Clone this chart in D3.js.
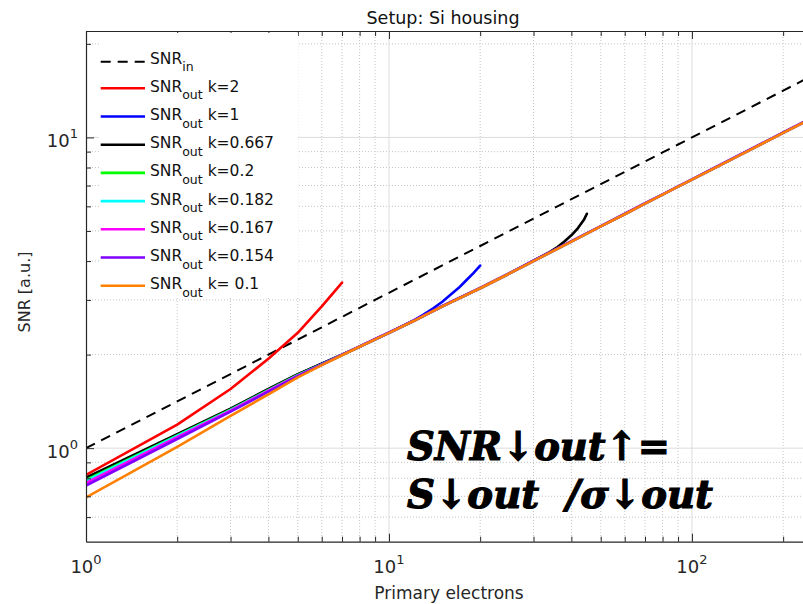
<!DOCTYPE html>
<html>
<head>
<meta charset="utf-8">
<script src="https://cdn.jsdelivr.net/npm/d3@7"></script>
<style>
  body { margin: 0; background: #fff; }
  svg { display: block; font-family: "DejaVu Sans", sans-serif; }
</style>
</head>
<body>
<svg id="chart" width="803" height="604"></svg>
<script>
// ---- data ---------------------------------------------------------------
const nIn   = [1,2,3,4,5,6,7,8,9,10,20,30,40,50,60,70,80,90,100,200,250];
const snrIn = [1,1.414,1.732,2,2.236,2.449,2.646,2.828,3,3.162,4.472,5.477,6.325,7.071,7.746,8.367,8.944,9.487,10,14.142,15.811];

const nK2   = [1,2,3,4,5,6,7];
const snrK2 = [0.82,1.19,1.55,1.94,2.35,2.86,3.41];

const nK1   = [1,2,3,4,5,6,7,8,9,10,11,12,13,14,15,16,17,18,19,20];
const snrK1 = [0.795,1.10,1.335,1.545,1.725,1.87,2.0,2.12,2.24,2.35,2.46,2.57,2.69,2.82,2.96,3.12,3.28,3.47,3.66,3.87];

const nK0667   = [1,2,3,4,5,6,7,8,9,10,12,15,20,25,30,32,34,36,38,40,42,44,45];
const snrK0667 = [0.804,1.11,1.34,1.55,1.73,1.87,2.0,2.12,2.24,2.35,2.56,2.86,3.27,3.65,4.01,4.15,4.28,4.44,4.63,4.84,5.10,5.43,5.68];

const nLow = [1,2,3,4,5,6,7,8,9,10,12,15,20,25,30,40,50,60,70,80,90,100,120,150,200,250];
const snrK02    = [0.79,1.10,1.33,1.54,1.72,1.86,1.995,2.12,2.24,2.35,2.56,2.86,3.27,3.65,4.0,4.62,5.17,5.66,6.12,6.54,6.94,7.31,8.01,8.95,10.34,11.56];
const snrK0182  = [0.785,1.095,1.325,1.535,1.715,1.86,1.995,2.12,2.24,2.35,2.56,2.86,3.27,3.65,4.0,4.62,5.17,5.66,6.12,6.54,6.94,7.31,8.01,8.95,10.34,11.56];
const snrK0167  = [0.772,1.085,1.32,1.53,1.71,1.855,1.995,2.12,2.24,2.35,2.56,2.86,3.27,3.65,4.0,4.62,5.17,5.66,6.12,6.54,6.94,7.31,8.01,8.95,10.34,11.56];
const snrK0154  = [0.758,1.07,1.31,1.52,1.705,1.855,1.995,2.125,2.245,2.356,2.566,2.867,3.28,3.66,4.012,4.635,5.185,5.68,6.14,6.56,6.96,7.33,8.03,8.98,10.37,11.6];
const snrK01    = [0.694,1.01,1.27,1.49,1.69,1.85,1.99,2.12,2.24,2.35,2.56,2.86,3.27,3.65,4.0,4.62,5.17,5.66,6.12,6.54,6.94,7.31,8.01,8.95,10.34,11.56];

const kLabels = ["2","1","0.667","0.2","0.182","0.167","0.154"," 0.1"];
const kColors = ["#ff0000","#0000ff","#000000","#00ff00","#00ffff","#ff00ff","#7f00ff","#ff8000"];

const xMajor = [1,10,100];
const xMinor = [2,3,4,5,6,7,8,9,20,30,40,50,60,70,80,90,200];
const yMajor = [1,10];
const yMinor = [0.6,0.7,0.8,0.9,2,3,4,5,6,7,8,9,20];

// ---- layout -------------------------------------------------------------
const plotL = 86, plotR = 812.5, plotT = 31, plotB = 541.7;
const x = d3.scaleLog().domain([1, 250]).range([plotL, plotR]);
const y = d3.scaleLog().domain([0.5, 22]).range([plotB, plotT]);

const svg = d3.select("#chart");
const axisColor = "#262626";

svg.append("defs").append("clipPath").attr("id", "plotClip")
  .append("rect").attr("x", plotL).attr("y", plotT)
  .attr("width", plotR - plotL).attr("height", plotB - plotT);

// ---- grid ---------------------------------------------------------------
const grid = svg.append("g");
grid.selectAll(".gxm").data(xMinor).join("line")
  .attr("x1", d => x(d)).attr("x2", d => x(d)).attr("y1", plotT).attr("y2", plotB)
  .attr("stroke", "#c4c4c4").attr("stroke-width", 1).attr("stroke-dasharray", "1,2");
grid.selectAll(".gym").data(yMinor).join("line")
  .attr("y1", d => y(d)).attr("y2", d => y(d)).attr("x1", plotL).attr("x2", plotR)
  .attr("stroke", "#c4c4c4").attr("stroke-width", 1).attr("stroke-dasharray", "1,2");
grid.selectAll(".gxM").data(xMajor.slice(1)).join("line")
  .attr("x1", d => x(d)).attr("x2", d => x(d)).attr("y1", plotT).attr("y2", plotB)
  .attr("stroke", "#dcdcdc").attr("stroke-width", 1);
grid.selectAll(".gyM").data(yMajor).join("line")
  .attr("y1", d => y(d)).attr("y2", d => y(d)).attr("x1", plotL).attr("x2", plotR)
  .attr("stroke", "#dcdcdc").attr("stroke-width", 1);

// ---- curves -------------------------------------------------------------
const line = d3.line().x(d => x(d[0])).y(d => y(d[1]));
const zip = (a, b) => a.map((v, i) => [v, b[i]]);

const outSeries = [
  zip(nK2, snrK2), zip(nK1, snrK1), zip(nK0667, snrK0667),
  zip(nLow, snrK02), zip(nLow, snrK0182), zip(nLow, snrK0167),
  zip(nLow, snrK0154), zip(nLow, snrK01)
];

const curves = svg.append("g").attr("clip-path", "url(#plotClip)");
curves.append("path").datum(zip(nIn, snrIn))
  .attr("d", line).attr("fill", "none").attr("stroke", "#000")
  .attr("stroke-width", 2).attr("stroke-dasharray", "10,7");
curves.selectAll(".out").data(outSeries).join("path")
  .attr("d", line).attr("fill", "none")
  .attr("stroke", (d, i) => kColors[i]).attr("stroke-width", 2.6)
  .attr("stroke-linejoin", "round").attr("stroke-linecap", "round");

// ---- axes ---------------------------------------------------------------
function styleAxis(g) {
  g.selectAll("path.domain").attr("stroke", axisColor).attr("stroke-width", 1.2);
  g.selectAll(".tick line").attr("stroke", axisColor).attr("stroke-width", 1);
  g.selectAll(".tick text").remove();
}
const axes = svg.append("g");
// bottom
axes.append("g").attr("transform", `translate(0,${plotB})`)
  .call(d3.axisBottom(x).tickValues(xMajor).tickSizeInner(-8).tickSizeOuter(0)).call(styleAxis);
axes.append("g").attr("transform", `translate(0,${plotB})`)
  .call(d3.axisBottom(x).tickValues(xMinor).tickSizeInner(-5).tickSizeOuter(0)).call(styleAxis)
  .select("path.domain").remove();
// top
axes.append("g").attr("transform", `translate(0,${plotT})`)
  .call(d3.axisTop(x).tickValues(xMajor).tickSizeInner(-8).tickSizeOuter(0)).call(styleAxis);
axes.append("g").attr("transform", `translate(0,${plotT})`)
  .call(d3.axisTop(x).tickValues(xMinor).tickSizeInner(-5).tickSizeOuter(0)).call(styleAxis)
  .select("path.domain").remove();
// left
axes.append("g").attr("transform", `translate(${plotL},0)`)
  .call(d3.axisLeft(y).tickValues(yMajor).tickSizeInner(-8).tickSizeOuter(0)).call(styleAxis);
axes.append("g").attr("transform", `translate(${plotL},0)`)
  .call(d3.axisLeft(y).tickValues(yMinor).tickSizeInner(-5).tickSizeOuter(0)).call(styleAxis)
  .select("path.domain").remove();

// power-of-ten tick labels
function powerLabel(sel, exp) {
  sel.append("tspan").text("10");
  sel.append("tspan").attr("dy", -9).attr("font-size", 13).text(String(exp));
}
axes.append("g").selectAll("text").data(xMajor).join("text")
  .attr("x", d => x(d)).attr("y", plotB + 31.5)
  .attr("text-anchor", "middle").attr("font-size", 18).attr("fill", axisColor)
  .each(function(d) { powerLabel(d3.select(this), Math.round(Math.log10(d))); });
axes.append("g").selectAll("text").data(yMajor).join("text")
  .attr("x", plotL - 8).attr("y", d => y(d) + 10)
  .attr("text-anchor", "end").attr("font-size", 18).attr("fill", axisColor)
  .each(function(d) { powerLabel(d3.select(this), Math.round(Math.log10(d))); });

// titles
svg.append("text").attr("x", 443).attr("y", 23.5).attr("text-anchor", "middle")
  .attr("font-size", 17.5).attr("fill", "#111").text("Setup: Si housing");
svg.append("text").attr("x", 449).attr("y", 599).attr("text-anchor", "middle")
  .attr("font-size", 17).attr("fill", axisColor).text("Primary electrons");
svg.append("text").attr("transform", "translate(30,292) rotate(-90)").attr("text-anchor", "middle")
  .attr("font-size", 16).attr("fill", axisColor).text("SNR [a.u.]");

// ---- legend -------------------------------------------------------------
const legend = svg.append("g");
legend.append("rect").attr("x", 99).attr("y", 33).attr("width", 199).attr("height", 264)
  .attr("fill", "#fff");
const lx0 = 100.7, lx1 = 145, tx = 150;
const rowIn = 61.7;
legend.append("line").attr("x1", lx0).attr("x2", lx1).attr("y1", rowIn).attr("y2", rowIn)
  .attr("stroke", "#000").attr("stroke-width", 2).attr("stroke-dasharray", "10,7");
const tIn = legend.append("text").attr("x", tx).attr("y", rowIn + 2).attr("font-size", 15.5).attr("fill", "#111");
tIn.append("tspan").text("SNR");
tIn.append("tspan").attr("dy", 7).attr("font-size", 12.5).text("in");

const rows = legend.selectAll("g.row").data(kLabels).join("g").attr("class", "row")
  .attr("transform", (d, i) => `translate(0,${88.3 + i * 28.2})`);
rows.append("line").attr("x1", lx0).attr("x2", lx1)
  .attr("stroke", (d, i) => kColors[i]).attr("stroke-width", 2.6);
const rt = rows.append("text").attr("x", tx).attr("y", 3.5).attr("font-size", 15.5).attr("fill", "#111");
rt.append("tspan").text("SNR");
rt.append("tspan").attr("dy", 7.5).attr("font-size", 12.5).text("out");
rt.append("tspan").attr("dy", -7.5).attr("xml:space", "preserve").text(d => " k=" + d);

// ---- formula ------------------------------------------------------------
const formula = svg.append("g").attr("font-family", "'DejaVu Serif', serif")
  .attr("font-weight", "bold").attr("font-style", "italic").attr("fill", "#000")
  .attr("stroke", "#000").attr("stroke-width", 1.2);
formula.append("text").attr("x", 407).attr("y", 460).attr("font-size", 40)
  .attr("textLength", 263).attr("lengthAdjust", "spacingAndGlyphs").text("SNR↓out↑=");
formula.append("text").attr("x", 407).attr("y", 508).attr("font-size", 40)
  .attr("textLength", 306).attr("lengthAdjust", "spacingAndGlyphs")
  .attr("xml:space", "preserve").text("S↓out  /σ↓out");
</script>
</body>
</html>
